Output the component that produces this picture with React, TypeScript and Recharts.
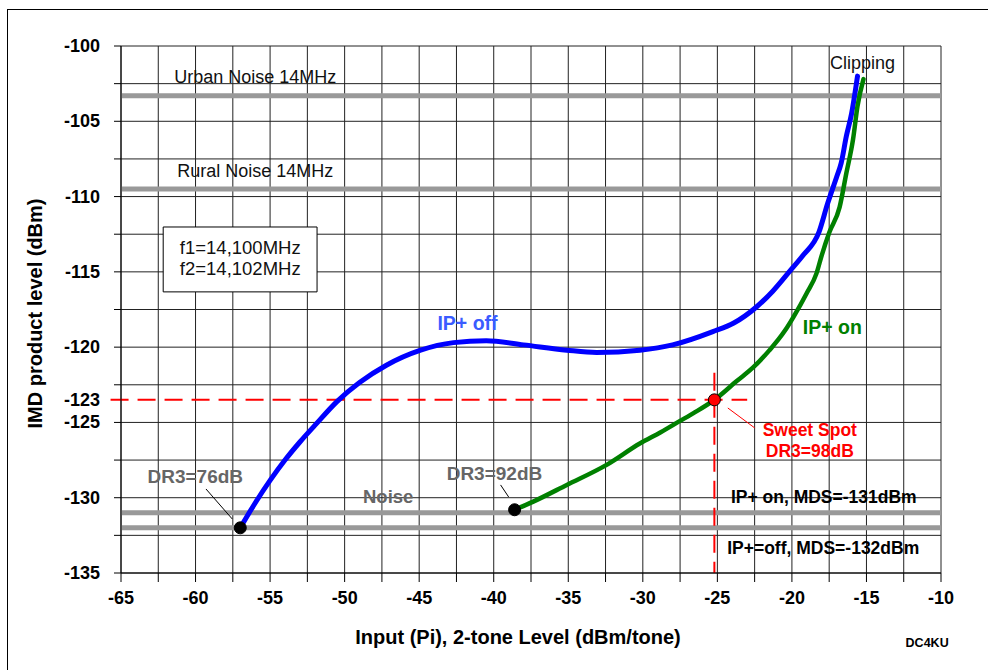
import React from 'react';
import {
  ComposedChart, Line, XAxis, YAxis, CartesianGrid, ReferenceLine, ReferenceDot, ReferenceArea, Label,
} from 'recharts';

// IMD product level vs. 2-tone input, IP+ off / on
const offX = [-57.0, -56.0, -55.0, -54.0, -53.0, -52.0, -50.5, -49.0, -47.2, -44.9, -42.7, -40.5, -38.0, -35.1, -33.1, -30.2, -28.0, -25.3, -23.9, -22.4, -21.3, -20.1, -19.25, -18.2, -17.6, -17.0, -16.7, -16.35, -16.0, -15.6];
const offY = [-132.0, -130.35, -128.85, -127.5, -126.3, -125.2, -123.6, -122.35, -121.2, -120.2, -119.7, -119.57, -119.85, -120.2, -120.35, -120.2, -119.85, -118.97, -118.4, -117.35, -116.3, -114.9, -113.9, -112.4, -110.45, -108.7, -107.8, -106.0, -104.5, -102.0];
const onX = [-38.6, -37.35, -35.1, -32.4, -30.2, -28.8, -27.5, -26.6, -25.2, -23.7, -22.6, -21.5, -20.5, -19.9, -19.0, -18.35, -18.0, -17.5, -16.8, -16.35, -15.9, -15.6, -15.2];
const onY = [-130.8, -130.26, -129.15, -127.8, -126.4, -125.65, -124.9, -124.38, -123.5, -122.25, -121.35, -120.2, -118.95, -118.0, -116.4, -115.1, -113.9, -112.4, -110.7, -108.45, -106.2, -104.0, -102.2];

const xTicks = [-65, -62.5, -60, -57.5, -55, -52.5, -50, -47.5, -45, -42.5, -40, -37.5, -35, -32.5, -30, -27.5, -25, -22.5, -20, -17.5, -15, -12.5, -10];
const yGrid = [-135, -132.5, -130, -127.5, -125, -122.5, -120, -117.5, -115, -112.5, -110, -107.5, -105, -102.5, -100];
const yTicks = [-135, -132.5, -130, -127.5, -125, -123.5, -122.5, -120, -117.5, -115, -112.5, -110, -107.5, -105, -102.5, -100];

const urbanNoise = -103.3;
const ruralNoise = -109.5;
const mdsOn = -131;
const mdsOff = -132;
const sweetX = -25.2;
const sweetY = -123.5;
const dr3Off = { x: -57.0, y: -132.0 };
const dr3On = { x: -38.6, y: -130.8 };

const FONT = '"Liberation Sans", Arial, Helvetica, sans-serif';

const offData = offX.map((x, i) => ({ x, y: offY[i] }));
const onData = onX.map((x, i) => ({ x, y: onY[i] }));

type Note = { x: number; y: number; text: string; size: number; bold?: boolean; color: string };

const notes: Note[] = [
  { x: -56.0, y: -102.06, text: 'Urban Noise 14MHz', size: 18, color: '#111' },
  { x: -56.0, y: -108.3, text: 'Rural Noise 14MHz', size: 18, color: '#111' },
  { x: -57.0, y: -113.41, text: 'f1=14,100MHz', size: 18.5, color: '#111' },
  { x: -57.0, y: -114.81, text: 'f2=14,102MHz', size: 18.5, color: '#111' },
  { x: -15.27, y: -101.13, text: 'Clipping', size: 18, color: '#111' },
  { x: -41.76, y: -118.39, text: 'IP+ off', size: 19.5, bold: true, color: '#3a5cff' },
  { x: -17.29, y: -118.66, text: 'IP+ on', size: 19.5, bold: true, color: '#008000' },
  { x: -18.8, y: -125.5, text: 'Sweet Spot', size: 17.5, bold: true, color: '#ff0000' },
  { x: -18.8, y: -126.89, text: 'DR3=98dB', size: 17.5, bold: true, color: '#ff0000' },
  { x: -17.86, y: -129.95, text: 'IP+ on, MDS=-131dBm', size: 17.5, bold: true, color: '#000' },
  { x: -17.9, y: -133.33, text: 'IP+=off, MDS=-132dBm', size: 17.5, bold: true, color: '#000' },
  { x: -60.02, y: -128.62, text: 'DR3=76dB', size: 19, bold: true, color: '#666' },
  { x: -39.95, y: -128.42, text: 'DR3=92dB', size: 19, bold: true, color: '#666' },
  { x: -47.08, y: -129.95, text: 'Noise', size: 18.5, bold: true, color: '#666' },
  { x: -10.93, y: -139.64, text: 'DC4KU', size: 12.5, bold: true, color: '#000' },
];

const leaders = [
  { x1: -59.3, y1: -129.42, x2: -57.54, y2: -131.41, color: '#000' },
  { x1: -39.54, y1: -129.15, x2: -39.0, y2: -129.95, color: '#000' },
  { x1: -24.3, y1: -124.04, x2: -22.49, y2: -125.37, color: '#ff0000' },
];

function YTick({ x, y, payload }: any) {
  const v = payload.value as number;
  const label = v === sweetY ? '-123' : v % 5 === 0 ? String(v) : '';
  return (
    <g>
      {v !== sweetY && <line x1={x + 14} x2={x + 21} y1={y} y2={y} stroke="#000" />}
      {label && (
        <text x={x} y={y} textAnchor="end" dominantBaseline="central" fontFamily={FONT} fontWeight="bold" fontSize={18} fill="#000">
          {label}
        </text>
      )}
    </g>
  );
}

function XTick({ x, y, payload }: any) {
  const v = payload.value as number;
  return (
    <g>
      <line x1={x} x2={x} y1={y - 18} y2={y - 9} stroke="#000" />
      {v % 5 === 0 && (
        <text x={x} y={y} dy="0.71em" textAnchor="middle" fontFamily={FONT} fontWeight="bold" fontSize={18} fill="#000">
          {v}
        </text>
      )}
    </g>
  );
}

function NoteText({ vb, n }: { vb: any; n: Note }) {
  const cx = vb.x + vb.width / 2;
  const cy = vb.y + vb.height / 2;
  return (
    <text x={cx} y={cy} textAnchor="middle" dominantBaseline="central" fontFamily={FONT}
      fontSize={n.size} fontWeight={n.bold ? 'bold' : 'normal'} fill={n.color}>
      {n.text}
    </text>
  );
}

function YTitle({ viewBox }: any) {
  const cx = 35;
  const cy = viewBox.y + viewBox.height / 2 + 4;
  return (
    <text x={cx} y={cy} transform={`rotate(-90, ${cx}, ${cy})`} textAnchor="middle" dominantBaseline="central"
      fontFamily={FONT} fontWeight="bold" fontSize={20} fill="#000">
      IMD product level (dBm)
    </text>
  );
}

function XTitle({ viewBox }: any) {
  const cx = viewBox.x + viewBox.width / 2 - 13;
  return (
    <text x={cx} y={637} textAnchor="middle" dominantBaseline="central" fontFamily={FONT} fontWeight="bold" fontSize={20} fill="#000">
      Input (Pi), 2-tone Level (dBm/tone)
    </text>
  );
}

export default function App() {
  return (
    <div style={{ position: 'absolute', left: 0, top: 0, width: 988, height: 670, overflow: 'hidden', background: '#fff' }}>
      <div style={{ position: 'absolute', left: 7, top: 9, width: 1000, height: 700, border: '1px solid #000' }} />
      <ComposedChart width={988} height={670} margin={{ top: 46, right: 47, bottom: 0, left: 0 }} style={{ position: 'absolute', left: 0, top: 0 }}>
        <CartesianGrid stroke="#222" strokeWidth={1} horizontalValues={yGrid} verticalValues={xTicks} />
        <XAxis dataKey="x" type="number" domain={[-65, -10]} ticks={xTicks} interval={0} height={97}
          tickSize={9} tickMargin={9} tickLine={false} axisLine={{ stroke: '#000' }} tick={<XTick />} allowDataOverflow>
          <Label content={<XTitle />} />
        </XAxis>
        <YAxis dataKey="y" type="number" domain={[-135, -100]} ticks={yTicks} interval={0} width={121}
          tickSize={7} tickMargin={14} tickLine={false} axisLine={{ stroke: '#000' }} tick={<YTick />} allowDataOverflow>
          <Label content={<YTitle />} />
        </YAxis>

        {[urbanNoise, ruralNoise, mdsOn, mdsOff].map((v) => (
          <ReferenceLine key={v} y={v} stroke="#999" strokeWidth={5} />
        ))}

        <ReferenceLine segment={[{ x: -65.7, y: sweetY }, { x: -23, y: sweetY }]} stroke="#ff0000" strokeWidth={2}
          strokeDasharray="18 9" ifOverflow="visible" />
        <ReferenceLine segment={[{ x: sweetX, y: -121.7 }, { x: sweetX, y: -135 }]} stroke="#ff0000" strokeWidth={2}
          strokeDasharray="18 9" ifOverflow="visible" />

        {leaders.map((l, i) => (
          <ReferenceLine key={i} segment={[{ x: l.x1, y: l.y1 }, { x: l.x2, y: l.y2 }]} stroke={l.color} strokeWidth={1} ifOverflow="visible" />
        ))}

        <ReferenceArea x1={-62.17} x2={-51.85} y1={-116.33} y2={-112.02} fill="#fff" fillOpacity={1} stroke="#000" strokeWidth={1} />

        <Line data={offData} dataKey="y" type="monotone" stroke="#0000ff" strokeWidth={5} dot={false} activeDot={false}
          isAnimationActive={false} strokeLinecap="round" />
        <Line data={onData} dataKey="y" type="monotone" stroke="#008000" strokeWidth={4.5} dot={false} activeDot={false}
          isAnimationActive={false} strokeLinecap="round" />

        <ReferenceDot x={dr3Off.x} y={dr3Off.y} r={6} fill="#000" stroke="#000" />
        <ReferenceDot x={dr3On.x} y={dr3On.y} r={6} fill="#000" stroke="#000" />
        <ReferenceDot x={sweetX} y={sweetY} r={6} fill="#ff0000" stroke="#000" strokeWidth={1} />

        {notes.map((n) => (
          <ReferenceDot key={n.text} x={n.x} y={n.y} r={0} fill="none" stroke="none" ifOverflow="visible"
            label={(p: any) => <NoteText vb={p.viewBox} n={n} />} />
        ))}
      </ComposedChart>
    </div>
  );
}
